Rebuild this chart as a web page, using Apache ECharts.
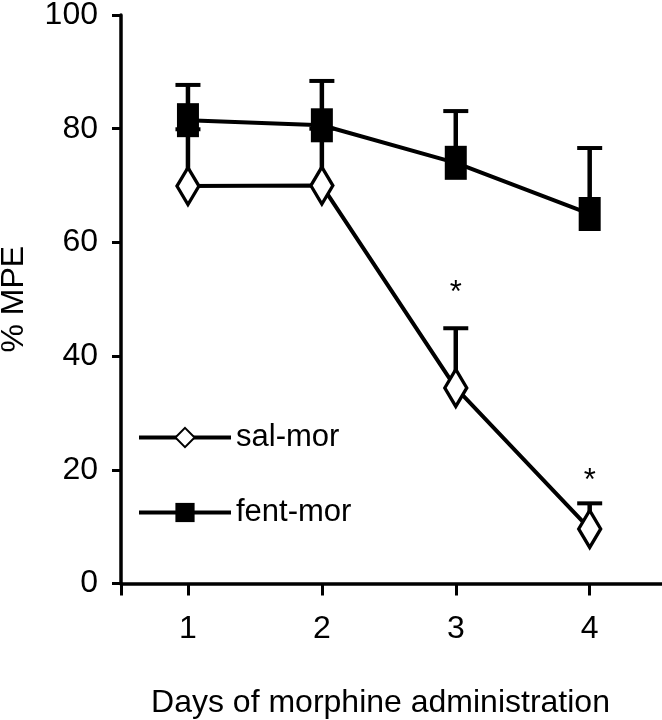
<!DOCTYPE html>
<html><head><meta charset="utf-8">
<script src="https://cdn.jsdelivr.net/npm/echarts@6/dist/echarts.min.js"></script>
<style>html,body{margin:0;padding:0;background:#fff}#c{width:662px;height:720px}</style>
</head><body><div id="c"></div>
<script>
const days = [1, 2, 3, 4];
const dayLabels = ['1', '2', '3', '4'];
const salMor = [69.9, 70.0, 34.4, 9.6];
const salMorErr = [10, 10, 10.5, 4.5];
const fentMor = [81.5, 80.6, 74.0, 65.0];
const fentMorErr = [6.2, 7.8, 9.1, 11.6];
const sigDays = [3, 4];
const sigY = [51.1, 17.9];
const yTicks = [0, 20, 40, 60, 80, 100];

const FF = '"Liberation Sans", Arial, sans-serif';
const FS = 32;

function errRender(params, api) {
  const x = api.value(0), lo = api.value(1), hi = api.value(2);
  const p0 = api.coord([x, lo]);
  const p1 = api.coord([x, hi]);
  const half = 12.5;
  return {
    type: 'group',
    children: [
      { type: 'line', shape: { x1: p0[0], y1: p0[1], x2: p1[0], y2: p1[1] }, style: { stroke: '#000', lineWidth: 4.5 } },
      { type: 'line', shape: { x1: p1[0] - half, y1: p1[1], x2: p1[0] + half, y2: p1[1] }, style: { stroke: '#000', lineWidth: 4 } }
    ]
  };
}
function sigRender(params, api) {
  const p = api.coord([api.value(0), api.value(1)]);
  return { type: 'text', x: p[0], y: p[1], style: { text: '*', font: '31px ' + FF, fill: '#000', textAlign: 'center', textVerticalAlign: 'middle' } };
}

const chart = echarts.init(document.getElementById('c'), null, { renderer: 'canvas' });
chart.setOption({
  animation: false,
  backgroundColor: '#fff',
  grid: { left: 121, right: 0, top: 15, bottom: 136.5, containLabel: false, outerBoundsMode: 'none' },
  legend: {
    data: ['sal-mor', 'fent-mor'],
    orient: 'vertical',
    left: 132, top: 417,
    padding: 5,
    itemWidth: 92, itemHeight: 24, itemGap: 44,
    selectedMode: false,
    lineStyle: { width: 4, color: '#000' },
    textStyle: { fontSize: 31, fontFamily: FF, color: '#000' }
  },
  xAxis: {
    type: 'value', min: 0.5, max: 4.54,
    name: 'Days of morphine administration', nameLocation: 'middle', nameGap: 104,
    nameTextStyle: { fontSize: FS, fontFamily: FF, color: '#000', padding: [0, 22, 0, 0] },
    axisLine: { show: true, onZero: false, lineStyle: { color: '#000', width: 3.5 } },
    axisTick: { show: true, length: 12, lineStyle: { color: '#000', width: 3 }, customValues: [0.5].concat(days) },
    axisLabel: { show: true, margin: 30, fontSize: FS, fontFamily: FF, color: '#000', customValues: days,
      formatter: v => dayLabels[days.indexOf(v)] },
    splitLine: { show: false }
  },
  yAxis: {
    type: 'value', min: 0, max: 100, interval: 20,
    name: '% MPE', nameLocation: 'middle', nameGap: 91,
    nameTextStyle: { fontSize: FS, fontFamily: FF, color: '#000' },
    axisLine: { show: true, onZero: false, lineStyle: { color: '#000', width: 3.5 } },
    axisTick: { show: true, length: 9, lineStyle: { color: '#000', width: 3 } },
    axisLabel: { margin: 23, fontSize: FS, fontFamily: FF, color: '#000',
      formatter: v => yTicks.indexOf(v) >= 0 ? String(v) : '' },
    splitLine: { show: false }
  },
  series: [
    { name: 'sal-err', type: 'custom', renderItem: errRender, z: 1,
      encode: { x: 0, y: [1, 2] },
      data: days.map((d, i) => [d, salMor[i], salMor[i] + salMorErr[i]]) },
    { name: 'fent-err', type: 'custom', renderItem: errRender, z: 1,
      encode: { x: 0, y: [1, 2] },
      data: days.map((d, i) => [d, fentMor[i], fentMor[i] + fentMorErr[i]]) },
    { name: 'sal-mor', type: 'line', z: 3,
      data: days.map((d, i) => [d, salMor[i]]),
      symbol: 'diamond', symbolSize: [22, 37], showAllSymbol: true,
      itemStyle: { color: '#fff', borderColor: '#000', borderWidth: 3.5 },
      lineStyle: { color: '#000', width: 4 } },
    { name: 'fent-mor', type: 'line', z: 3,
      data: days.map((d, i) => [d, fentMor[i]]),
      symbol: 'rect', symbolSize: [22, 34], showAllSymbol: true,
      itemStyle: { color: '#000', borderColor: '#000', borderWidth: 0 },
      lineStyle: { color: '#000', width: 4 } },
    { name: 'sig', type: 'custom', renderItem: sigRender, z: 4,
      encode: { x: 0, y: 1 },
      data: sigDays.map((d, i) => [d, sigY[i]]) }
  ]
});
</script>
</body></html>
